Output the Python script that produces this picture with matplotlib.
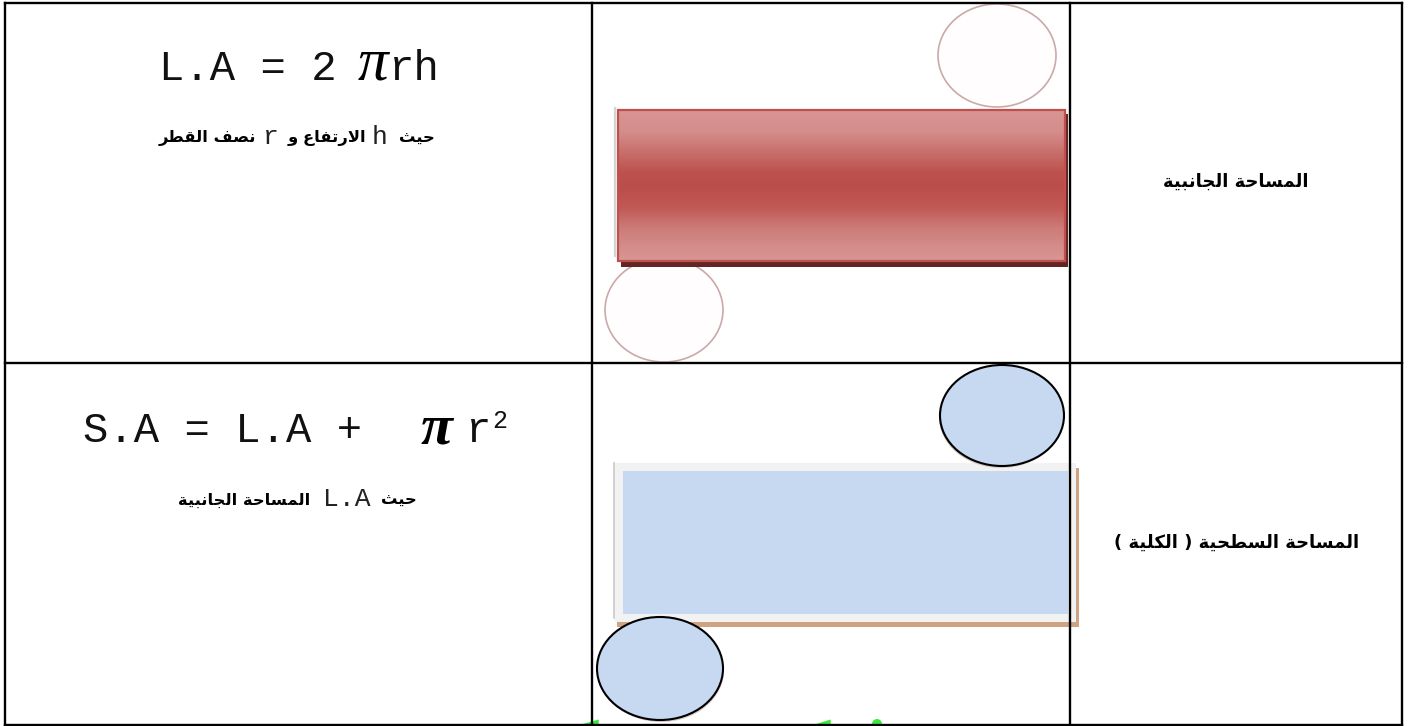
import numpy as np
import matplotlib
matplotlib.use('Agg')
import matplotlib.pyplot as plt
from matplotlib.patches import Rectangle, Ellipse, Polygon, Circle
from matplotlib.colors import LinearSegmentedColormap

W, H = 1419, 726
ARABIC = ['DejaVu Sans']
MONO = 'Liberation Mono'

# texts (logical order)
row_titles = ['المساحة الجانبية', 'المساحة السطحية ( الكلية )']
row_title_centers = [(1236, 182), (1236.5, 543)]
formula_top = 'L.A = 2'
formula_top_tail = 'rh'
formula_bot = 'S.A = L.A +'
formula_bot_tail = 'r'
note_top = [('ar', 'حيث', 417), ('la', 'h', 380), ('ar', 'الارتفاع و', 327),
            ('la', 'r', 271), ('ar', 'نصف القطر', 207.5)]
note_bot = [('ar', 'حيث', 399), ('la', 'L.A', 347), ('ar', 'المساحة الجانبية', 244)]

# table grid
col_x = [5, 591.5, 1070, 1401.5]
row_y = [2.5, 363, 724.5]

# Arabic shaping: isolated, final, initial, medial
FORMS = {
    'ا': (0xFE8D, 0xFE8E), 'ب': (0xFE8F, 0xFE90, 0xFE91, 0xFE92), 'ة': (0xFE93, 0xFE94),
    'ت': (0xFE95, 0xFE96, 0xFE97, 0xFE98), 'ث': (0xFE99, 0xFE9A, 0xFE9B, 0xFE9C),
    'ج': (0xFE9D, 0xFE9E, 0xFE9F, 0xFEA0), 'ح': (0xFEA1, 0xFEA2, 0xFEA3, 0xFEA4),
    'ر': (0xFEAD, 0xFEAE), 'س': (0xFEB1, 0xFEB2, 0xFEB3, 0xFEB4),
    'ص': (0xFEB9, 0xFEBA, 0xFEBB, 0xFEBC), 'ط': (0xFEC1, 0xFEC2, 0xFEC3, 0xFEC4),
    'ع': (0xFEC9, 0xFECA, 0xFECB, 0xFECC), 'ف': (0xFED1, 0xFED2, 0xFED3, 0xFED4),
    'ق': (0xFED5, 0xFED6, 0xFED7, 0xFED8), 'ك': (0xFED9, 0xFEDA, 0xFEDB, 0xFEDC),
    'ل': (0xFEDD, 0xFEDE, 0xFEDF, 0xFEE0), 'م': (0xFEE1, 0xFEE2, 0xFEE3, 0xFEE4),
    'ن': (0xFEE5, 0xFEE6, 0xFEE7, 0xFEE8), 'و': (0xFEED, 0xFEEE),
    'ي': (0xFEF1, 0xFEF2, 0xFEF3, 0xFEF4),
}
LAM_ALEF = (0xFEFB, 0xFEFC)
MIRROR = {'(': ')', ')': '('}


def shape(s):
    s = s.replace('لا', '\uE000')
    def fwd(c):
        return c == '\uE000' or (c in FORMS and len(FORMS[c]) == 4)
    def known(c):
        return c == '\uE000' or c in FORMS
    out = []
    for i, c in enumerate(s):
        if not known(c):
            out.append(MIRROR.get(c, c))
            continue
        prev = s[i - 1] if i > 0 else ''
        nxt = s[i + 1] if i + 1 < len(s) else ''
        jp = bool(prev) and prev != '\uE000' and fwd(prev)
        jn = bool(nxt) and known(nxt) and fwd(c) and c != '\uE000'
        if c == '\uE000':
            out.append(chr(LAM_ALEF[1 if jp else 0]))
        elif jp and jn:
            out.append(chr(FORMS[c][3]))
        elif jp:
            out.append(chr(FORMS[c][1]))
        elif jn:
            out.append(chr(FORMS[c][2]))
        else:
            out.append(chr(FORMS[c][0]))
    return ''.join(reversed(out))


fig = plt.figure(figsize=(W / 100, H / 100), dpi=100, facecolor='white')
ax = fig.add_axes([0, 0, 1, 1])
ax.set_xlim(0, W)
ax.set_ylim(H, 0)
ax.axis('off')

# ---- red cylinder net ----
ax.add_patch(Ellipse((997, 55.5), 118, 103, fc='#fffdfd', ec='#c9aaa8', lw=1.2, zorder=2))
ax.add_patch(Ellipse((664, 310), 118, 104, fc='#fffdfd', ec='#c9aaa8', lw=1.2, zorder=2))
ax.plot([614.5, 614.5], [108, 256], color='#d4d4d4', lw=1.6, zorder=2)
ax.add_patch(Rectangle((621, 114), 446.5, 153, fc='#632523', ec='none', zorder=3))
stops = [(0.0, '#d99694'), (0.15, '#d48d8b'), (0.30, '#c76b67'), (0.42, '#bd514d'),
         (0.52, '#bb4e4a'), (0.65, '#c15955'), (0.78, '#cc7b78'), (0.92, '#d58e8c'), (1.0, '#d99694')]
cmap = LinearSegmentedColormap.from_list('metal', stops)
grad = np.linspace(0, 1, 256).reshape(-1, 1)
ax.imshow(grad, cmap=cmap, extent=(618, 1065, 261, 109), aspect='auto', zorder=4,
          vmin=0, vmax=1, interpolation='bilinear')
ax.add_patch(Rectangle((618, 109.5), 447, 151.5, fc='none', ec='#c0504d', lw=1.6, zorder=5))

# ---- blue cylinder net ----
ax.add_patch(Rectangle((617, 467.7), 461.7, 159, fc='#cfa381', ec='none', zorder=2))
ax.plot([614, 614], [463, 618], color='#c8c8c8', lw=1.2, zorder=2)
ax.add_patch(Rectangle((614.7, 462.7), 461, 159, fc='#f2f2f2', ec='none', zorder=3))
ax.add_patch(Rectangle((622.7, 470.7), 445.3, 143.3, fc='#c6d9f1', ec='none', zorder=4))
ax.add_patch(Ellipse((1001, 417.5), 124, 101, fc='#d9c9c6', ec='none', zorder=5))
ax.add_patch(Ellipse((1002, 415.5), 124, 101, fc='#c6d9f1', ec='black', lw=1.5, zorder=6))
ax.add_patch(Ellipse((661, 670.5), 126, 103, fc='#d9c9c6', ec='none', zorder=5))
ax.add_patch(Ellipse((660, 668.5), 126, 103, fc='#c6d9f1', ec='black', lw=1.5, zorder=6))

# ---- green specks at the bottom edge ----
GREEN = '#3ce83c'
ax.add_patch(Polygon([(582.7, 724), (598.7, 719.5), (598.7, 724)], fc=GREEN, ec='none', zorder=2))
ax.add_patch(Polygon([(816, 724), (830.7, 719.5), (830.7, 724)], fc=GREEN, ec='none', zorder=2))
ax.add_patch(Circle((877, 724), 5, fc=GREEN, ec='none', zorder=2))

# ---- table grid ----
for x in col_x:
    ax.plot([x, x], [row_y[0], row_y[-1]], color='black', lw=1.7, zorder=7, solid_capstyle='projecting')
for y in row_y:
    ax.plot([col_x[0], col_x[-1]], [y, y], color='black', lw=1.7, zorder=7, solid_capstyle='projecting')

# ---- formulas ----
TOP_BASE, BOT_BASE = 80, 442
ax.text(159, TOP_BASE, formula_top, family=MONO, fontsize=30.4, color='#111111', va='baseline', ha='left', zorder=8)
ax.text(358, TOP_BASE, 'π', family='Liberation Serif', style='italic', fontsize=44, color='black',
        va='baseline', ha='left', zorder=8)
ax.text(389, TOP_BASE, formula_top_tail, family=MONO, fontsize=30.4, color='#111111', va='baseline', ha='left', zorder=8)

ax.text(83, BOT_BASE, formula_bot, family=MONO, fontsize=30.4, color='#111111', va='baseline', ha='left', zorder=8)
ax.text(421, BOT_BASE + 2, 'π', family='Liberation Serif', style='italic', weight='bold', fontsize=42, color='black',
        va='baseline', ha='left', zorder=8)
ax.text(466, BOT_BASE, formula_bot_tail, family=MONO, fontsize=30.4, color='#111111', va='baseline', ha='left', zorder=8)
ax.text(492, BOT_BASE - 14, '2', family=MONO, fontsize=18, color='#111111', va='baseline', ha='left', zorder=8)

# ---- notes ----
def note(segments, y):
    for kind, s, xc in segments:
        if kind == 'ar':
            ax.text(xc, y, shape(s), family=ARABIC, weight='bold', fontsize=11.8, color='black',
                    ha='center', va='center', zorder=8)
        else:
            ax.text(xc, y - 1, s, family=MONO, fontsize=19, color='#222222',
                    ha='center', va='center', zorder=8)

note(note_top, 138)
note(note_bot, 500)

for s, (xc, yc) in zip(row_titles, row_title_centers):
    ax.text(xc, yc, shape(s), family=ARABIC, weight='bold', fontsize=13, color='black',
            ha='center', va='center', zorder=8)

fig.savefig('out.png', dpi=100, facecolor='white')
